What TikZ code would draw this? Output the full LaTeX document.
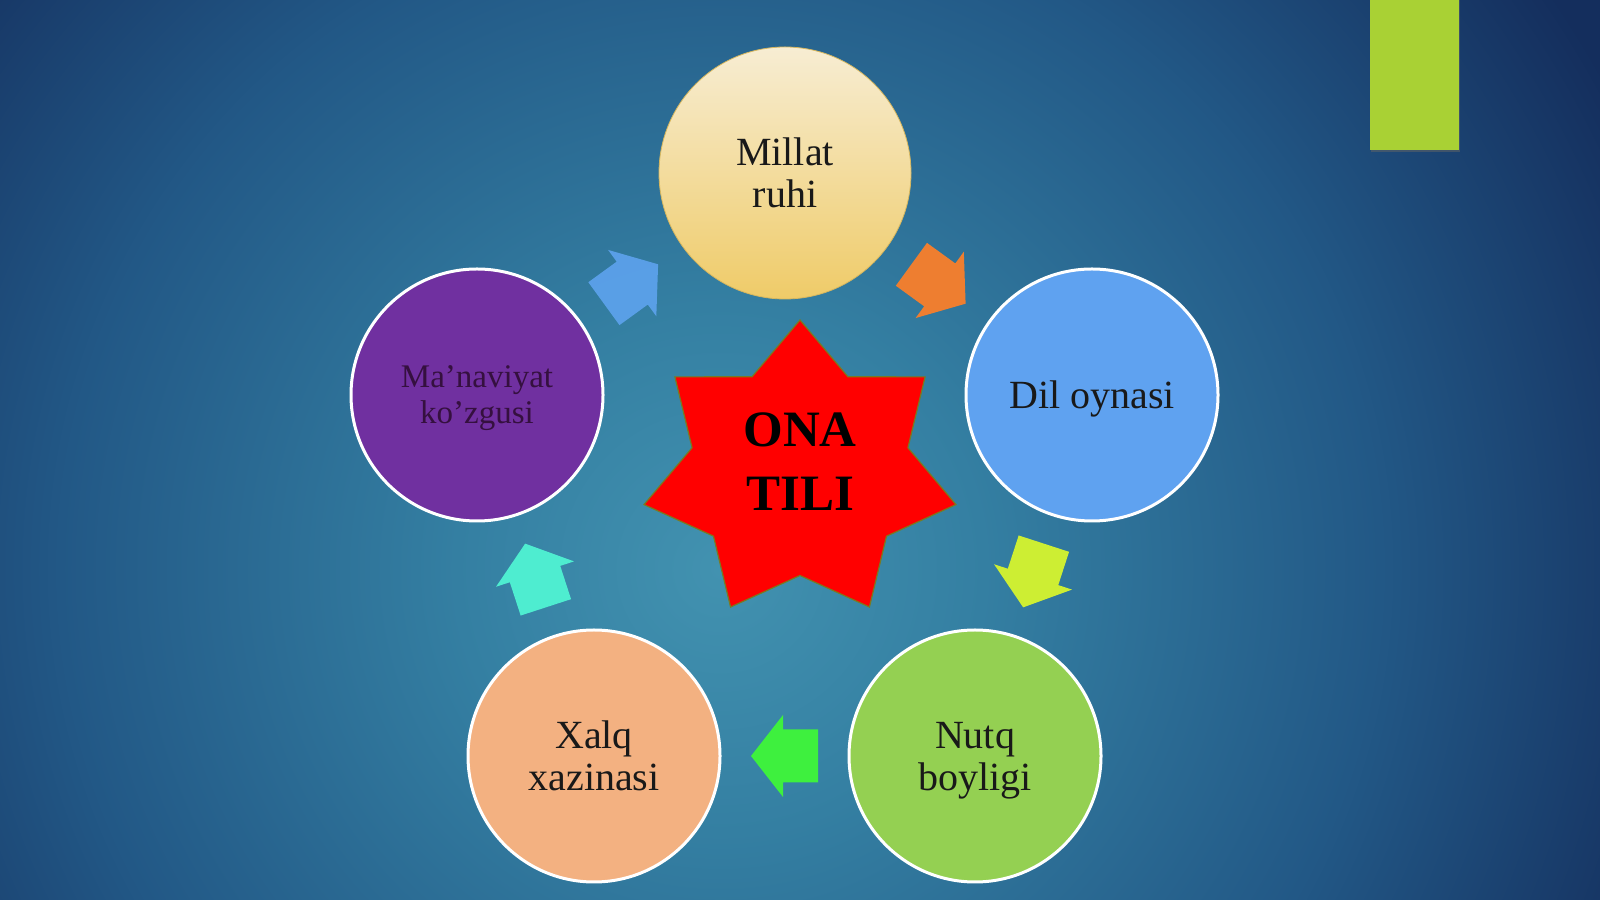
\documentclass[tikz,border=0pt]{standalone}
\usepackage{fontspec}
\setmainfont{Liberation Serif}
\usetikzlibrary{calc,shadows}
\definecolor{bgA}{HTML}{4292B0}
\definecolor{bgB}{HTML}{347FA2}
\definecolor{bgC}{HTML}{225886}
\definecolor{bgD}{HTML}{142E5D}
\definecolor{millatT}{HTML}{F7EDD3}
\definecolor{millatB}{HTML}{EFCB68}
\definecolor{dilC}{HTML}{5FA2F0}
\definecolor{nutqC}{HTML}{94D052}
\definecolor{xalqC}{HTML}{F3B181}
\definecolor{manC}{HTML}{7030A0}
\definecolor{manT}{HTML}{35103F}
\definecolor{arOrange}{HTML}{EE7E30}
\definecolor{arYellow}{HTML}{CDEE33}
\definecolor{arGreen}{HTML}{3EF03E}
\definecolor{arCyan}{HTML}{4EEDD0}
\definecolor{arBlue}{HTML}{5EA3EE}
\definecolor{limeC}{HTML}{A9D134}
\definecolor{starEdge}{HTML}{7A7A20}
\pgfdeclareradialshading{bgrad}{\pgfpoint{0bp}{0bp}}{color(0bp)=(bgA); color(6bp)=(bgB); color(15bp)=(bgC); color(23bp)=(bgD); color(50bp)=(bgD)}
\tikzset{
  circ/.style={circle, inner sep=0pt, minimum size=252pt, align=center,
    font=\fontsize{40}{42}\selectfont, text=black!90, text depth=0pt},
  wborder/.style={draw=white, line width=3pt},
}
\newcommand{\arrowshape}{(-33.5,-26.5) -- (1.5,-26.5) -- (1.5,-41) -- (33.5,0) -- (1.5,41) -- (1.5,26.5) -- (-33.5,26.5) -- cycle}
\begin{document}
\begin{tikzpicture}[x=1pt,y=1pt]
\useasboundingbox (0,0) rectangle (1600,899);
% background
\fill[bgD] (0,0) rectangle (1600,899);
\begin{scope}
  \clip (0,0) rectangle (1600,899);
  \shade[shading=bgrad] (720,330) circle (1100);
\end{scope}
% lime bar
\fill[black!60, opacity=0.5] (1371,747) rectangle (1460,899);
\fill[limeC] (1370,749) rectangle (1459,899);
% circles
\node[circ, top color=millatT, bottom color=millatB, draw=millatB!90!black, line width=0.8pt] (m) at (785,726) {Millat\\ruhi};
\node[circ, wborder, fill=dilC] (d) at (1092,504) {Dil oynasi};
\node[circ, wborder, fill=nutqC] (n) at (975,143) {Nutq\\boyligi};
\node[circ, wborder, fill=xalqC] (x) at (594,143) {Xalq\\xazinasi};
\node[circ, wborder, fill=manC, text=manT, font=\fontsize{33}{36}\selectfont] (v) at (477,504) {Ma’naviyat\\ko’zgusi};
% arrows
\begin{scope}[shift={($(m)!0.5!(d)$)}, rotate=-36]
  \fill[arOrange] \arrowshape;
\end{scope}
\begin{scope}[shift={($(d)!0.5!(n)$)}, rotate=-108]
  \fill[arYellow] \arrowshape;
\end{scope}
\begin{scope}[shift={($(n)!0.5!(x)$)}, rotate=180]
  \fill[arGreen] \arrowshape;
\end{scope}
\begin{scope}[shift={($(x)!0.5!(v)$)}, rotate=108]
  \fill[arCyan] \arrowshape;
\end{scope}
\begin{scope}[shift={($(v)!0.5!(m)$)}, rotate=36]
  \fill[arBlue, opacity=0.9] \arrowshape;
\end{scope}
% star
\fill[red, draw=starEdge, line width=1.2pt] plot[samples at={0,...,13}]
  ({800 + (mod(\x,2)==0 ? 160 : 110.7)*cos(90+25.7143*\x)},
   {428 + (mod(\x,2)==0 ? 151 : 104.5)*sin(90+25.7143*\x)}) -- cycle;
\node[align=center, inner sep=0pt, font=\fontsize{51}{64}\bfseries\selectfont] (ona) at (800,437) {ONA\\TILI};
\end{tikzpicture}
\end{document}
